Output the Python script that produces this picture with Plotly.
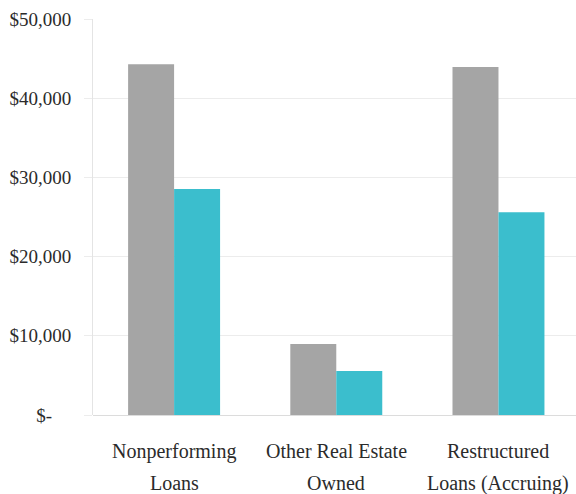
import plotly.graph_objects as go

# Categories (two-line labels) and the two bar series
categories = ["Nonperforming Loans", "Other Real Estate Owned", "Restructured Loans (Accruing)"]
label_line1 = ["Nonperforming", "Other Real Estate", "Restructured"]
label_line2 = ["Loans", "Owned", "Loans (Accruing)"]
prior_values = [44300, 8950, 43950]
current_values = [28550, 5560, 25600]

y_tick_vals = [0, 10000, 20000, 30000, 40000, 50000]
y_tick_text = ["$-\u00a0\u00a0\u00a0\u00a0", "$10,000", "$20,000", "$30,000", "$40,000", "$50,000"]

GRAY = "#a5a5a5"
TEAL = "#3bbecd"
TEXT = "#2b2b2b"
FONT = "Liberation Serif, Times New Roman, Times, DejaVu Serif"

fig = go.Figure()
fig.add_trace(go.Bar(x=categories, y=prior_values, marker_color=GRAY,
                     marker_line_width=0, name="Prior"))
fig.add_trace(go.Bar(x=categories, y=current_values, marker_color=TEAL,
                     marker_line_width=0, name="Current"))

# Category labels drawn as separate lines for wider line spacing
for cat, l1, l2 in zip(categories, label_line1, label_line2):
    for txt, shift in ((l1, -36), (l2, -68)):
        fig.add_annotation(x=cat, y=0, xref="x", yref="paper", text=txt,
                           showarrow=False, yanchor="middle", yshift=shift,
                           font=dict(family=FONT, size=20, color=TEXT))

fig.update_layout(
    width=576, height=494,
    margin=dict(l=93, r=0, t=19, b=79),
    paper_bgcolor="white", plot_bgcolor="white",
    barmode="group", bargap=0.433, bargroupgap=0,
    showlegend=False,
    font=dict(family=FONT, size=19, color=TEXT),
)
fig.update_xaxes(
    range=[-0.5, 2.478], showticklabels=False, showgrid=False,
    zeroline=False, showline=False, ticks="", automargin=False,
)
fig.update_yaxes(
    range=[0, 50000], tickvals=y_tick_vals, ticktext=y_tick_text,
    showgrid=True, gridcolor="#ececec", gridwidth=1,
    zeroline=True, zerolinecolor="#dcdcdc", zerolinewidth=1,
    showline=True, linecolor="#e4e4e4", linewidth=1,
    ticks="outside", ticklen=8, tickcolor="#ececec",
    ticklabelstandoff=9, automargin=False,
    tickfont=dict(family=FONT, size=19, color=TEXT),
)

fig.write_html("out.html")
